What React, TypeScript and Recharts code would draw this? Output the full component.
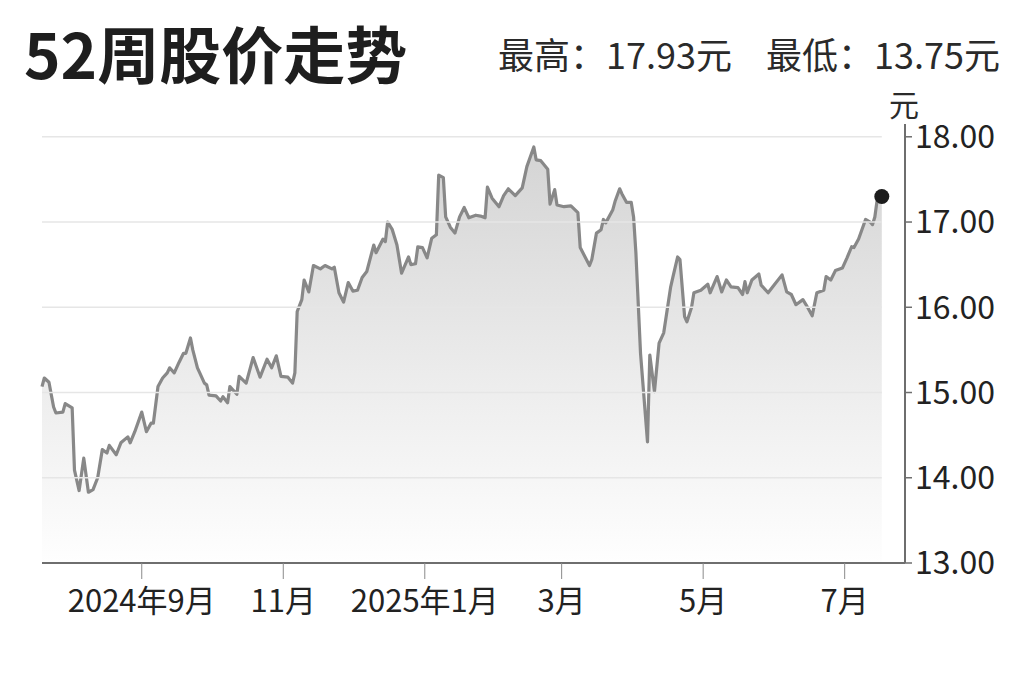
import { Area, AreaChart, ReferenceDot, ReferenceLine, XAxis, YAxis } from "recharts"

// days counted from 2024-07-20
const dayOffset = [
  0, 1, 3, 5, 6, 9, 10, 13, 14, 16, 18, 20, 22, 24, 26, 28, 29, 32, 34, 37,
  38, 40, 43, 45, 47, 48, 50, 52, 54, 55, 57, 59, 61, 62, 64, 65, 67, 68, 70, 71,
  72, 75, 77, 78, 80, 81, 84, 85, 88, 91, 94, 97, 99, 101, 103, 106, 108, 109, 110, 112,
  113, 115, 117, 120, 122, 125, 126, 128, 130, 132, 134, 136, 138, 140, 143, 144, 147, 148, 149, 151,
  153, 155, 158, 159, 161, 162, 164, 166, 168, 170, 171, 173, 174, 176, 178, 180, 182, 184, 187, 189,
  191, 192, 194, 197, 199, 201, 204, 207, 209, 212, 213, 215, 218, 219, 221, 222, 225, 228, 231, 232,
  236, 237, 239, 241, 242, 243, 246, 247, 249, 250, 252, 254, 255, 256, 258, 261, 262, 264, 266, 268,
  271, 272, 274, 275, 277, 278, 280, 281, 284, 287, 288, 291, 293, 295, 297, 300, 302, 303, 304, 306,
  309, 310, 313, 315, 319, 321, 323, 325, 328, 330, 332, 334, 337, 338, 340, 342, 345, 347, 349, 350,
  352, 355, 357, 358, 359, 360, 362,
]

const price = [
  15.07, 15.17, 15.12, 14.83, 14.76, 14.77, 14.87, 14.82, 14.09, 13.85, 14.23, 13.83, 13.86, 14.0, 14.33, 14.29, 14.38, 14.27, 14.41, 14.48,
  14.41, 14.54, 14.77, 14.54, 14.64, 14.64, 15.07, 15.17, 15.23, 15.29, 15.23, 15.35, 15.46, 15.46, 15.64, 15.5, 15.29, 15.23, 15.11, 15.09,
  14.97, 14.96, 14.9, 14.95, 14.88, 15.07, 14.98, 15.19, 15.11, 15.41, 15.18, 15.39, 15.29, 15.43, 15.19, 15.18, 15.11, 15.23, 15.95, 16.09,
  16.32, 16.18, 16.49, 16.45, 16.49, 16.45, 16.47, 16.17, 16.06, 16.29, 16.19, 16.2, 16.35, 16.42, 16.73, 16.64, 16.8, 16.77, 17.0, 16.91,
  16.73, 16.4, 16.59, 16.5, 16.51, 16.71, 16.7, 16.58, 16.81, 16.85, 17.55, 17.52, 17.06, 16.94, 16.87, 17.06, 17.17, 17.05, 17.08, 17.07,
  17.05, 17.41, 17.28, 17.18, 17.31, 17.39, 17.31, 17.4, 17.65, 17.88, 17.73, 17.72, 17.62, 17.21, 17.38, 17.2, 17.18, 17.19, 17.11, 16.7,
  16.49, 16.56, 16.87, 16.91, 17.03, 16.99, 17.14, 17.24, 17.39, 17.33, 17.23, 17.23, 17.06, 16.64, 15.46, 14.42, 15.44, 15.01, 15.58, 15.7,
  16.24, 16.36, 16.59, 16.56, 15.89, 15.83, 16.0, 16.17, 16.2, 16.27, 16.17, 16.36, 16.18, 16.32, 16.24, 16.23, 16.15, 16.3, 16.17, 16.32,
  16.39, 16.26, 16.17, 16.24, 16.38, 16.18, 16.15, 16.03, 16.09, 16.0, 15.9, 16.17, 16.2, 16.36, 16.32, 16.43, 16.46, 16.58, 16.71, 16.7,
  16.8, 17.03, 17.0, 16.97, 17.06, 17.26, 17.3,
]

const xTicks = [43, 104, 165, 224, 285, 346]
const xTickLabels = ["2024年9月", "11月", "2025年1月", "3月", "5月", "7月"]
const yTicks = [13, 14, 15, 16, 17, 18]
const gridValues = [14, 15, 16, 17, 18]

const highLabel = "最高：17.93元"
const lowLabel = "最低：13.75元"

const FONT = '"Noto Sans CJK SC", "Noto Sans", sans-serif'

const data = dayOffset.map((d, i) => ({ day: d, price: price[i] }))
const last = data[data.length - 1]

export default function App() {
  return (
    <div
      style={{
        position: "absolute",
        left: 0,
        top: 0,
        width: 1024,
        height: 682,
        background: "#fff",
        fontFamily: FONT,
        color: "#222",
      }}
    >
      <div
        style={{
          position: "absolute",
          left: 24,
          top: 12,
          fontSize: 62,
          fontWeight: 700,
          lineHeight: "80px",
          color: "#1e1e1e",
        }}
      >
        52周股价走势
      </div>
      <div
        style={{
          position: "absolute",
          left: 498,
          top: 30,
          fontSize: 36,
          lineHeight: "46px",
          whiteSpace: "pre",
          color: "#2a2a2a",
        }}
      >
        {highLabel}
      </div>
      <div
        style={{
          position: "absolute",
          left: 766,
          top: 30,
          fontSize: 36,
          lineHeight: "46px",
          whiteSpace: "pre",
          color: "#2a2a2a",
        }}
      >
        {lowLabel}
      </div>
      <div
        style={{
          position: "absolute",
          left: 889,
          top: 85,
          fontSize: 30,
          lineHeight: "36px",
          color: "#2a2a2a",
        }}
      >
        元
      </div>
      <div style={{ position: "absolute", left: 0, top: 0 }}>
        <AreaChart
          width={1024}
          height={682}
          data={data}
          margin={{ top: 124, right: 0, bottom: 59, left: 42 }}
        >
          <defs>
            <linearGradient id="priceFill" x1="0" y1="0" x2="0" y2="1">
              <stop offset="0%" stopColor="#d4d4d4" stopOpacity={1} />
              <stop offset="55%" stopColor="#ececec" stopOpacity={1} />
              <stop offset="100%" stopColor="#fefefe" stopOpacity={1} />
            </linearGradient>
          </defs>
          <XAxis
            dataKey="day"
            type="number"
            domain={[0, 372]}
            ticks={xTicks}
            tickFormatter={(v) => xTickLabels[xTicks.indexOf(v)] ?? ""}
            axisLine={{ stroke: "#6e6e6e", strokeWidth: 2 }}
            tickLine={{ stroke: "#8a8a8a", strokeWidth: 1 }}
            tickSize={16}
            tickMargin={11}
            tick={{ fontSize: 31, fill: "#222", fontFamily: FONT }}
            height={60}
            interval={0}
          />
          <YAxis
            orientation="right"
            type="number"
            domain={[13, 18.15]}
            ticks={yTicks}
            tickFormatter={(v) => v.toFixed(2)}
            axisLine={{ stroke: "#6e6e6e", strokeWidth: 2 }}
            tickLine={{ stroke: "#6e6e6e", strokeWidth: 1.5 }}
            tickSize={7}
            tickMargin={3}
            tick={{ fontSize: 32, fill: "#222", fontFamily: FONT }}
            width={119}
            interval={0}
          />
          <Area
            type="linear"
            dataKey="price"
            stroke="#888888"
            strokeWidth={3.2}
            strokeLinejoin="round"
            fill="url(#priceFill)"
            fillOpacity={1}
            baseValue={13}
            dot={false}
            activeDot={false}
            isAnimationActive={false}
          />
          {gridValues.map((g) => (
            <ReferenceLine
              key={g}
              segment={[
                { x: 0, y: g },
                { x: last.day, y: g },
              ]}
              stroke="#e6e6e6"
              strokeWidth={1.5}
              ifOverflow="visible"
            />
          ))}
          <ReferenceDot
            x={last.day}
            y={last.price}
            r={7.5}
            fill="#1c1c1c"
            stroke="none"
            ifOverflow="visible"
          />
        </AreaChart>
      </div>
    </div>
  )
}
